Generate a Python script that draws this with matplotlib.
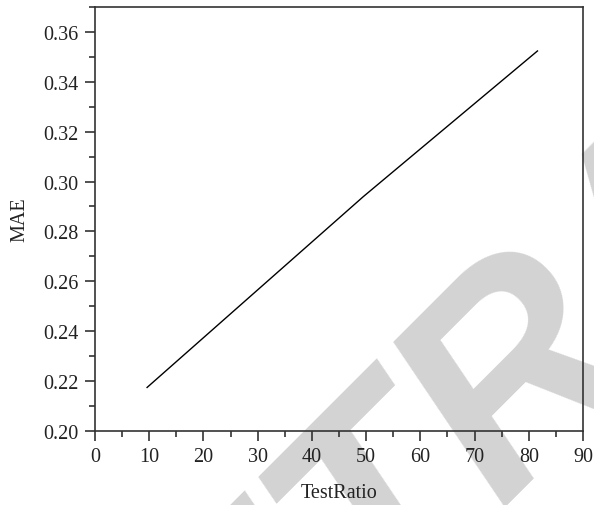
import numpy as np
import matplotlib
matplotlib.use("Agg")
import matplotlib.pyplot as plt
from matplotlib.ticker import MultipleLocator

# data
test_ratio = [9.6, 49.5, 81.6]
mae = [0.2174, 0.2940, 0.3524]

x_ticks = np.arange(0, 91, 10)
y_ticks = np.arange(0.20, 0.361, 0.02)

plt.rcParams['font.family'] = ['Liberation Serif', 'DejaVu Serif']

fig = plt.figure(figsize=(5.94, 5.06), dpi=100)
fig.patch.set_facecolor('white')
ax = fig.add_axes([0.16, 0.1466, 0.8215, 0.8374])
ax.patch.set_alpha(0)

# grey watermark behind the chart
fig.text(1.122, 0.532, 'RETRACTED', rotation=45, rotation_mode='anchor',
         ha='center', va='center', fontsize=205, fontweight='bold',
         fontstyle='italic', family='Liberation Sans', color='#d3d3d3',
         zorder=-1)

ax.plot(test_ratio, mae, color='black', lw=1.0)

ax.set_xlim(0, 90)
ax.set_ylim(0.20, 0.37)
ax.set_xticks(x_ticks)
ax.set_yticks(y_ticks)
ax.xaxis.set_minor_locator(MultipleLocator(5))
ax.yaxis.set_minor_locator(MultipleLocator(0.01))
ax.set_yticklabels(['%.2f' % v for v in y_ticks])

ax.tick_params(which='both', direction='out', top=False, right=False,
               color='#333333', width=1.2, labelsize=14.5, labelcolor='#222222')
ax.tick_params(which='major', length=7, pad=5)
ax.tick_params(which='minor', length=4)
for s in ax.spines.values():
    s.set_color('#333333')
    s.set_linewidth(1.2)

ax.set_xlabel('TestRatio', fontsize=14.5, color='#222222', labelpad=12)
ax.set_ylabel('MAE', fontsize=14.5, color='#222222', labelpad=10)

fig.savefig('out.png', dpi=100)
